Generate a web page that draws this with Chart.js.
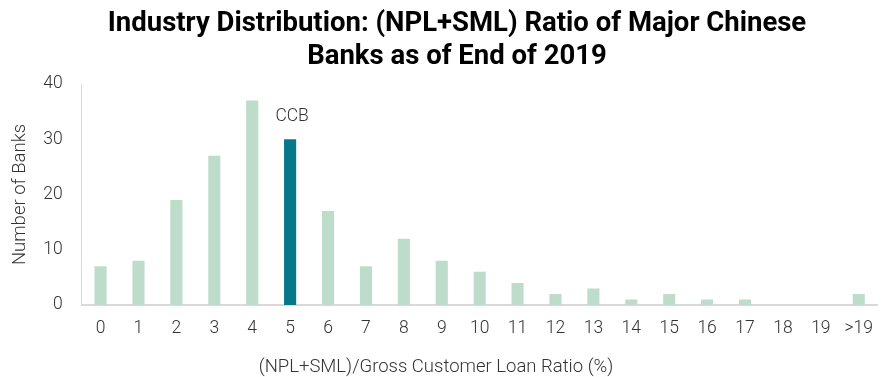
<!DOCTYPE html>
<html lang="en">
<head>
  <meta charset="UTF-8">
  <title>NPL+SML Distribution</title>
  <script src="https://cdn.jsdelivr.net/npm/chart.js"></script>
  <style>
    html, body { margin: 0; padding: 0; background: #fff; }
    #wrap { width: 886px; height: 377px; }
  </style>
</head>
<body>
<div id="wrap">
  <canvas id="nplChart"></canvas>
</div>

<script>
  const titleLines = ['Industry Distribution: (NPL+SML) Ratio of Major Chinese', 'Banks as of End of 2019'];
  const xAxisTitle = '(NPL+SML)/Gross Customer Loan Ratio (%)';
  const yAxisTitle = 'Number of Banks';
  const ratioBuckets = ['0', '1', '2', '3', '4', '5', '6', '7', '8', '9', '10',
    '11', '12', '13', '14', '15', '16', '17', '18', '19', '>19'];
  const bankCounts = [7, 8, 19, 27, 37, 30, 17, 7, 12, 8, 6, 4, 2, 3, 1, 2, 1, 1, 0, 0, 2];
  const highlightBucket = '5';
  const highlightLabel = 'CCB';

  const lightGreen = '#bedccb';
  const teal = '#06788c';

  const barColors = ratioBuckets.map(b => b === highlightBucket ? teal : lightGreen);
  const labelFont = { family: 'Roboto', size: 17.5, weight: 300 };

  // two-line heading plus the x axis caption, both placed left of the plot centre
  const headingPlugin = {
    id: 'heading',
    afterDraw(chart) {
      const ctx = chart.ctx;
      ctx.save();
      ctx.textAlign = 'center';
      ctx.textBaseline = 'middle';
      ctx.font = 'bold 27.5px Roboto';
      ctx.fillStyle = '#000';
      const cx = chart.width / 2 + 14;
      titleLines.forEach((line, i) => ctx.fillText(line, cx, 24 + i * 33));
      ctx.font = '300 18.5px Roboto';
      ctx.fillStyle = '#333';
      ctx.fillText(xAxisTitle, 436, 367);
      ctx.restore();
    }
  };

  // writes the bank name above the highlighted bar
  const calloutPlugin = {
    id: 'callout',
    afterDatasetsDraw(chart) {
      const idx = ratioBuckets.indexOf(highlightBucket);
      const bar = chart.getDatasetMeta(0).data[idx];
      const ctx = chart.ctx;
      ctx.save();
      ctx.font = '300 17.5px Roboto';
      ctx.fillStyle = '#333';
      ctx.textAlign = 'center';
      ctx.textBaseline = 'bottom';
      ctx.fillText(highlightLabel, bar.x + 2, bar.y - 14);
      ctx.restore();
    }
  };

  new Chart(document.getElementById('nplChart'), {
    type: 'bar',
    data: {
      labels: ratioBuckets,
      datasets: [{
        data: bankCounts,
        backgroundColor: barColors,
        categoryPercentage: 1,
        barPercentage: 0.32
      }]
    },
    options: {
      animation: false,
      responsive: true,
      maintainAspectRatio: false,
      layout: { padding: { left: 9, right: 0, top: 84, bottom: 25 } },
      plugins: {
        legend: { display: false },
        tooltip: { enabled: false },
        title: { display: false }
      },
      scales: {
        x: {
          grid: { display: false, drawTicks: false },
          border: { color: '#d9d9d9', width: 2 },
          ticks: { color: '#333', font: labelFont, padding: 13, maxRotation: 0 }
        },
        y: {
          min: 0,
          max: 40,
          afterFit(scale) { scale.paddingTop = 0; },
          ticks: { stepSize: 10, color: '#333', font: labelFont, padding: 12 },
          grid: { display: false, drawTicks: true, tickLength: 7, tickColor: '#d9d9d9' },
          border: { color: '#d9d9d9', width: 1 },
          title: {
            display: true,
            text: yAxisTitle,
            color: '#333',
            font: { family: 'Roboto', size: 18.5, weight: 300 },
            padding: { top: 0, bottom: 0 }
          }
        }
      }
    },
    plugins: [headingPlugin, calloutPlugin]
  });
</script>
</body>
</html>
